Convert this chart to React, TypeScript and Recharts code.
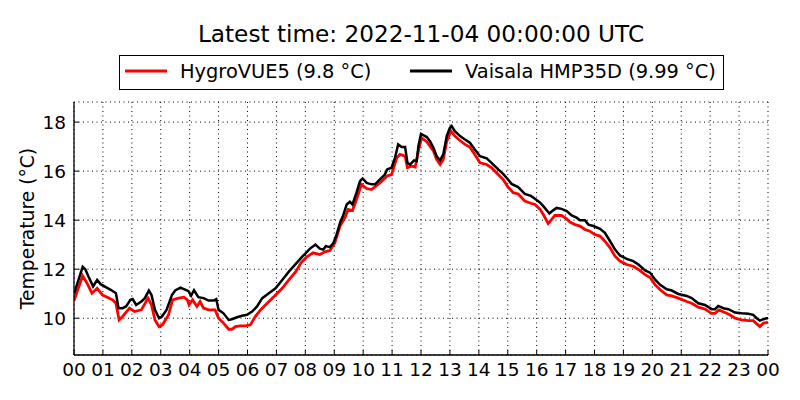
import React from 'react';
import { LineChart, Line, XAxis, YAxis, CartesianGrid } from 'recharts';

const hourTicks = [0, 1, 2, 3, 4, 5, 6, 7, 8, 9, 10, 11, 12, 13, 14, 15, 16, 17, 18, 19, 20, 21, 22, 23, 24];
const tempTicks = [10, 12, 14, 16, 18];
const tempDomain = [8.5, 18.82];

const seriesNames = ['HygroVUE5 (9.8 °C)', 'Vaisala HMP35D (9.99 °C)'];
const seriesColors = ['#ff0000', '#000000'];

const hygroTime = [0, 0.3, 0.45, 0.62, 0.8, 0.98, 1.15, 1.33, 1.45, 1.56, 1.68, 1.92, 2.09, 2.33, 2.56, 2.68, 2.8, 2.94, 3.06, 3.27, 3.41, 3.62, 3.8, 3.92, 3.98, 4.1, 4.25, 4.36, 4.48, 4.65, 4.88, 5.0, 5.17, 5.35, 5.46, 5.58, 5.75, 5.93, 6.1, 6.27, 6.45, 6.68, 6.91, 7.2, 7.43, 7.67, 7.85, 8.04, 8.27, 8.5, 8.68, 8.85, 9.02, 9.2, 9.37, 9.48, 9.63, 9.77, 9.94, 10.12, 10.29, 10.58, 10.83, 10.98, 11.16, 11.27, 11.45, 11.53, 11.68, 11.8, 11.91, 12.02, 12.2, 12.31, 12.43, 12.54, 12.66, 12.77, 12.89, 13.04, 13.17, 13.35, 13.52, 13.69, 13.86, 14.04, 14.27, 14.44, 14.67, 14.84, 15.01, 15.19, 15.36, 15.59, 15.8, 15.94, 16.12, 16.23, 16.4, 16.52, 16.63, 16.86, 17.04, 17.15, 17.33, 17.5, 17.67, 17.84, 18.02, 18.19, 18.36, 18.54, 18.71, 18.88, 19.11, 19.34, 19.52, 19.75, 19.92, 20.09, 20.27, 20.5, 20.67, 20.9, 21.19, 21.36, 21.59, 21.82, 22.05, 22.17, 22.3, 22.51, 22.68, 22.86, 23.09, 23.32, 23.49, 23.61, 23.72, 23.84, 23.95, 24];
const hygroTemp = [10.72, 11.73, 11.43, 11.02, 11.22, 10.95, 10.86, 10.75, 10.61, 9.93, 10.07, 10.41, 10.27, 10.34, 10.82, 10.54, 9.93, 9.66, 9.73, 10.14, 10.75, 10.82, 10.86, 10.75, 10.54, 10.75, 10.48, 10.68, 10.41, 10.34, 10.34, 10.0, 9.8, 9.55, 9.55, 9.66, 9.69, 9.69, 9.73, 10.07, 10.34, 10.61, 10.88, 11.22, 11.56, 11.9, 12.26, 12.49, 12.67, 12.6, 12.71, 12.76, 13.07, 13.76, 14.1, 14.44, 14.39, 14.84, 15.46, 15.29, 15.25, 15.52, 15.8, 15.86, 16.54, 16.68, 16.61, 16.14, 16.2, 16.17, 16.82, 17.36, 17.2, 17.02, 16.82, 16.48, 16.27, 16.48, 17.22, 17.63, 17.43, 17.25, 17.09, 16.98, 16.68, 16.34, 16.27, 16.14, 15.86, 15.66, 15.35, 15.12, 15.07, 14.78, 14.69, 14.64, 14.44, 14.23, 13.86, 14.03, 14.19, 14.19, 14.05, 13.92, 13.82, 13.76, 13.62, 13.55, 13.41, 13.35, 13.14, 12.87, 12.53, 12.33, 12.19, 12.12, 11.99, 11.78, 11.66, 11.37, 11.16, 10.95, 10.91, 10.82, 10.68, 10.61, 10.45, 10.37, 10.2, 10.2, 10.34, 10.23, 10.14, 10.0, 9.93, 9.9, 9.9, 9.77, 9.66, 9.8, 9.82, 9.85];

const vaisalaTime = [0, 0.3, 0.39, 0.5, 0.66, 0.8, 0.92, 1.1, 1.27, 1.45, 1.54, 1.68, 1.8, 1.95, 2.03, 2.15, 2.33, 2.45, 2.59, 2.68, 2.8, 2.94, 3.04, 3.2, 3.39, 3.5, 3.68, 3.86, 3.96, 4.05, 4.15, 4.3, 4.48, 4.65, 4.83, 4.92, 5.0, 5.17, 5.35, 5.46, 5.64, 5.81, 5.98, 6.16, 6.33, 6.51, 6.74, 6.97, 7.2, 7.43, 7.67, 7.9, 8.0, 8.16, 8.35, 8.5, 8.62, 8.71, 8.85, 8.97, 9.08, 9.2, 9.31, 9.43, 9.54, 9.63, 9.77, 9.89, 9.98, 10.12, 10.29, 10.41, 10.58, 10.75, 10.83, 10.98, 11.1, 11.21, 11.33, 11.45, 11.53, 11.62, 11.76, 11.85, 11.91, 12.0, 12.08, 12.2, 12.31, 12.43, 12.54, 12.66, 12.77, 12.89, 13.0, 13.06, 13.17, 13.35, 13.52, 13.69, 13.86, 14.04, 14.27, 14.44, 14.67, 14.84, 15.01, 15.13, 15.36, 15.59, 15.8, 15.94, 16.12, 16.23, 16.44, 16.58, 16.69, 16.86, 17.04, 17.21, 17.38, 17.5, 17.67, 17.79, 17.96, 18.19, 18.36, 18.54, 18.71, 18.88, 19.11, 19.34, 19.52, 19.75, 19.92, 20.09, 20.27, 20.5, 20.67, 20.9, 21.19, 21.36, 21.59, 21.82, 22.05, 22.17, 22.28, 22.46, 22.63, 22.86, 23.09, 23.32, 23.49, 23.61, 23.72, 23.84, 23.95, 24];
const vaisalaTemp = [11.0, 12.1, 12.0, 11.7, 11.3, 11.56, 11.39, 11.27, 11.16, 11.02, 10.41, 10.41, 10.48, 10.75, 10.78, 10.54, 10.68, 10.82, 11.13, 10.95, 10.34, 10.0, 10.07, 10.34, 10.95, 11.13, 11.25, 11.16, 11.1, 10.92, 11.14, 10.86, 10.82, 10.72, 10.72, 10.78, 10.34, 10.2, 9.93, 9.96, 10.04, 10.1, 10.14, 10.27, 10.48, 10.82, 11.02, 11.22, 11.56, 11.9, 12.22, 12.52, 12.64, 12.84, 13.0, 12.84, 12.8, 12.94, 12.9, 13.07, 13.41, 13.89, 14.2, 14.64, 14.75, 14.64, 15.12, 15.59, 15.7, 15.52, 15.46, 15.46, 15.66, 15.86, 16.07, 16.14, 16.54, 17.09, 16.98, 16.98, 16.34, 16.27, 16.44, 16.41, 17.02, 17.52, 17.47, 17.39, 17.22, 16.95, 16.61, 16.44, 16.68, 17.43, 17.77, 17.84, 17.63, 17.43, 17.29, 17.16, 16.88, 16.61, 16.52, 16.34, 16.07, 15.89, 15.66, 15.48, 15.35, 15.07, 14.99, 14.87, 14.71, 14.57, 14.27, 14.41, 14.5, 14.46, 14.37, 14.19, 14.1, 14.0, 14.0, 13.82, 13.76, 13.65, 13.48, 13.14, 12.8, 12.56, 12.42, 12.33, 12.19, 11.95, 11.86, 11.58, 11.36, 11.18, 11.13, 10.99, 10.91, 10.82, 10.61, 10.54, 10.37, 10.37, 10.5, 10.41, 10.37, 10.23, 10.2, 10.18, 10.14, 10.0, 9.9, 9.96, 10.0, 10.0];

const titleText = 'Latest time: 2022-11-04 00:00:00 UTC';
const yLabelText = 'Temperature (°C)';

const FONT = '"DejaVu Sans", sans-serif';

const hygroData = hygroTime.map((t, i) => ({ t, v: hygroTemp[i] }));
const vaisalaData = vaisalaTime.map((t, i) => ({ t, v: vaisalaTemp[i] }));

const fmtHour = (h: number) => String(h % 24).padStart(2, '0');

const tickStyle = { fontSize: 18.5, fill: '#000', fontFamily: FONT };

export default function App() {
  return (
    <div style={{ position: 'absolute', left: 0, top: 0, width: 800, height: 400, background: '#fff' }}>
      <LineChart
        width={800}
        height={400}
        margin={{ top: 102, right: 32, bottom: 15, left: 14 }}
        style={{ fontFamily: FONT }}
      >
        <CartesianGrid stroke="#000" strokeWidth={1} strokeDasharray="1 3.5" />
        <XAxis
          dataKey="t"
          type="number"
          domain={[0, 24]}
          ticks={hourTicks}
          tickFormatter={fmtHour}
          interval={0}
          allowDataOverflow
          height={30}
          tick={tickStyle}
          axisLine={{ stroke: '#000', strokeWidth: 1.3 }}
          tickLine={{ stroke: '#000', strokeWidth: 1 }}
          tickSize={-5}
          tickMargin={13}
        />
        <XAxis
          xAxisId="top"
          orientation="top"
          dataKey="t"
          type="number"
          domain={[0, 24]}
          ticks={hourTicks}
          interval={0}
          height={0}
          tick={false}
          axisLine={{ stroke: '#000', strokeWidth: 1.3 }}
          tickLine={{ stroke: '#000', strokeWidth: 1 }}
          tickSize={-5}
        />
        <YAxis
          type="number"
          domain={tempDomain}
          ticks={tempTicks}
          allowDataOverflow
          width={60}
          interval={0}
          tick={tickStyle}
          axisLine={{ stroke: '#000', strokeWidth: 1.3 }}
          tickLine={{ stroke: '#000', strokeWidth: 1 }}
          tickSize={-5}
          tickMargin={13}
        />
        <YAxis
          yAxisId="right"
          orientation="right"
          type="number"
          domain={tempDomain}
          ticks={tempTicks}
          allowDataOverflow
          width={0}
          interval={0}
          tick={false}
          axisLine={{ stroke: '#000', strokeWidth: 1.3 }}
          tickLine={{ stroke: '#000', strokeWidth: 1 }}
          tickSize={-5}
        />
        <Line
          data={hygroData}
          dataKey="v"
          name={seriesNames[0]}
          type="linear"
          stroke={seriesColors[0]}
          strokeWidth={2.8}
          dot={false}
          activeDot={false}
          isAnimationActive={false}
        />
        <Line
          data={vaisalaData}
          dataKey="v"
          name={seriesNames[1]}
          type="linear"
          stroke={seriesColors[1]}
          strokeWidth={2.5}
          dot={false}
          activeDot={false}
          isAnimationActive={false}
        />
      </LineChart>
      <svg
        width={800}
        height={400}
        style={{ position: 'absolute', left: 0, top: 0, pointerEvents: 'none', fontFamily: FONT }}
      >
        <text x={421} y={41.7} textAnchor="middle" fontSize={23.2} fill="#000">
          {titleText}
        </text>
        <text
          x={0}
          y={0}
          transform="translate(34.4,228.5) rotate(-90)"
          textAnchor="middle"
          fontSize={18.7}
          fill="#000"
        >
          {yLabelText}
        </text>
        <rect x={119.5} y={55.5} width={604} height={34} fill="#fff" stroke="#000" strokeWidth={1} />
        <line x1={125} y1={71} x2={167} y2={71} stroke={seriesColors[0]} strokeWidth={2.8} />
        <text x={180} y={78.3} fontSize={19.4} fill="#000">
          {seriesNames[0]}
        </text>
        <line x1={410} y1={71} x2={452} y2={71} stroke={seriesColors[1]} strokeWidth={2.8} />
        <text x={465} y={78.3} fontSize={19.4} fill="#000">
          {seriesNames[1]}
        </text>
      </svg>
    </div>
  );
}
